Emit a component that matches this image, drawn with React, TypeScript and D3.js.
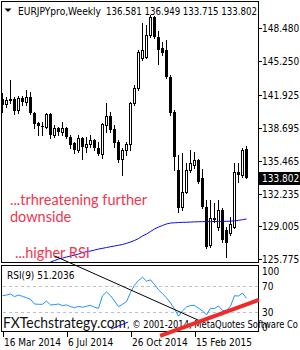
import { useEffect, useRef } from "react";
import * as d3 from "d3";

// weekly EURJPY candles, 16 Mar 2014 .. 17 May 2015
const opens = [
  141.5, 141.0, 141.5, 141.5, 140.4, 141.6, 141.2, 141.7, 140.1, 139.2,
  138.9, 138.8, 140.0, 138.0, 138.7, 138.3, 138.7, 137.8, 137.2, 136.5,
  137.7, 136.8, 137.1, 137.5, 136.7, 136.1, 139.0, 139.8, 138.6, 137.3,
  135.6, 136.5, 137.1, 141.1, 142.6, 145.5, 145.6, 147.8, 149.56, 147.6,
  146.5, 146.3, 143.7, 140.2, 134.55, 130.9, 132.4, 134.55, 135.0, 135.5,
  133.8, 130.9, 127.2, 129.8, 129.0, 130.6, 128.7, 128.4, 129.0, 134.35,
  134.05, 136.581,
];
const highs = [
  142.1, 141.7, 143.4, 141.7, 141.8, 141.8, 142.4, 142.2, 140.2, 139.3,
  139.3, 140.1, 140.1, 139.0, 138.8, 139.3, 138.8, 138.0, 137.3, 138.0,
  137.8, 137.8, 138.0, 137.6, 137.3, 139.2, 141.1, 140.2, 139.0, 137.5,
  136.7, 137.3, 141.2, 142.9, 146.3, 149.0, 148.8, 149.76, 149.7, 148.2,
  147.1, 147.3, 143.9, 140.4, 136.0, 136.2, 135.2, 136.5, 136.3, 135.6,
  134.6, 131.6, 131.6, 131.3, 131.6, 130.8, 129.0, 129.9, 135.2, 135.2,
  136.7, 136.949,
];
const lows = [
  140.2, 140.7, 141.1, 140.0, 140.1, 140.9, 140.9, 140.0, 138.7, 138.0,
  138.0, 138.7, 137.7, 137.8, 138.0, 138.0, 137.7, 136.7, 136.2, 136.3,
  135.6, 136.3, 136.8, 136.5, 136.0, 135.7, 138.3, 138.3, 136.8, 135.3,
  134.1, 136.0, 136.5, 140.9, 142.4, 145.3, 145.5, 147.6, 147.5, 144.9,
  145.8, 143.6, 139.9, 134.5, 130.4, 130.6, 132.3, 134.35, 134.7, 133.3,
  130.8, 126.9, 127.0, 129.4, 128.7, 127.5, 126.0, 128.2, 128.85, 133.4,
  133.9, 133.715,
];
const closes = [
  140.9, 141.4, 141.3, 140.3, 141.6, 141.2, 141.7, 140.1, 139.1, 138.9,
  138.8, 140.0, 138.0, 138.7, 138.3, 138.7, 137.8, 137.0, 136.5, 137.7,
  136.8, 137.1, 137.5, 136.7, 136.1, 139.1, 139.8, 138.5, 137.2, 135.5,
  136.5, 137.1, 141.1, 142.6, 146.1, 146.3, 147.8, 149.56, 147.6, 146.3,
  146.0, 143.7, 140.1, 135.8, 130.8, 132.4, 134.55, 135.2, 135.5, 133.4,
  130.9, 127.0, 129.8, 129.6, 130.6, 127.7, 127.4, 129.2, 134.35, 134.05,
  136.5, 133.802,
];

// long moving average (only visible from mid 2014)
const maValues = [
  null, null, null, null, null, null, null, null, null, null,
  null, null, 125.52, 125.66, 125.81, 125.91, 126.01, 126.11, 126.2, 126.3,
  126.45, 126.53, 126.6, 126.69, 126.79, 126.86, 126.94, 127.02, 127.09, 127.16,
  127.24, 127.35, 127.48, 127.63, 127.82, 128.07, 128.26, 128.51, 128.76, 128.95,
  129.1, 129.25, 129.34, 129.37, 129.39, 129.41, 129.42, 129.44, 129.46, 129.47,
  129.48, 129.48, 129.49, 129.49, 129.5, 129.5, 129.51, 129.53, 129.56, 129.61,
  129.67, 129.74,
];

const rsiValues = [
  55, 56, 57.6, 53.5, 56, 54, 52, 49.5, 42.4, 42,
  42, 47, 41, 41.5, 42.4, 40, 41, 38.4, 36.8, 39,
  37.5, 39, 40.5, 37.5, 36, 55, 60.6, 55, 47, 38.4,
  42, 46, 60, 71, 78, 83, 77, 79, 72, 64,
  58, 52, 44, 35, 24, 32, 38, 40, 40.5, 36,
  32, 26, 36, 35.6, 39.4, 32.6, 33, 39, 55, 54.5,
  59, 51.2036,
];

const priceTicks = [148.48, 145.25, 141.925, 138.695, 135.465, 132.235, 129.005, 125.775];
const rsiLevels = [100, 70, 30, 0];
const rsiDashed = [70, 30];
const dateTickIndex = [0, 16, 32, 48];
const dateTickLabels = ["16 Mar 2014", "6 Jul 2014", "26 Oct 2014", "15 Feb 2015"];
const titleName = "EURJPYpro,Weekly";
const titleOhlc = ["136.581", "136.949", "133.715", "133.802"];

// hand drawn lines, in bar index / RSI units
const rsiTrendLine = [{ i: 13.1, v: 115 }, { i: 49.4, v: 16.7 }];
const rsiSupportLine = [{ i: 39.4, v: -6 }, { i: 64.1, v: 48.5 }];
const blueStroke = [{ i: 27.1, v: 4.5 }, { i: 31.4, v: 15 }];

const lastPrice = 133.802;
const rsiLast = 51.2036;

export default function App() {
  const svgRef = useRef<SVGSVGElement>(null);

  useEffect(() => {
    if (!svgRef.current) return;
    const width = 300;
    const height = 350;
    const frame = { left: 1.5, right: 258.5, top: 1.5, mainBottom: 262.5, rsiTop: 265.5, rsiBottom: 331.5 };
    const axisFont = "'DejaVu Sans Condensed', 'Liberation Sans', sans-serif";
    const noteFont = "Lato, 'Open Sans', sans-serif";
    const noteColor = "#f3354f";

    const svg = d3.select(svgRef.current);
    svg.selectAll("*").remove();
    svg.attr("width", width).attr("height", height);

    svg.append("rect").attr("width", width).attr("height", height).attr("fill", "#fff");

    const x = d3.scaleLinear().domain([0, 61]).range([2.5, 246.5]);
    const y = d3.scaleLinear().domain([125.775, 148.48]).range([259.4, 28]);
    const yRsi = d3.scaleLinear().domain([0, 100]).range([332, 266]);

    const defs = svg.append("defs");
    defs.append("clipPath").attr("id", "mainClip")
      .append("rect")
      .attr("x", frame.left).attr("y", frame.top)
      .attr("width", frame.right - frame.left).attr("height", frame.mainBottom - frame.top);

    // panel frames
    const frames = svg.append("g").attr("fill", "none").attr("stroke", "#000").attr("shape-rendering", "crispEdges");
    frames.append("rect")
      .attr("x", frame.left).attr("y", frame.top)
      .attr("width", frame.right - frame.left).attr("height", frame.mainBottom - frame.top);
    frames.append("rect")
      .attr("x", frame.left).attr("y", frame.rsiTop)
      .attr("width", frame.right - frame.left).attr("height", frame.rsiBottom - frame.rsiTop);

    // title
    svg.append("path").attr("d", "M4.5,8.5 L11.5,8.5 L8,12 Z").attr("fill", "#000");
    const title = svg.append("g").attr("font-family", axisFont).attr("font-size", 10).attr("fill", "#000");
    title.append("text").attr("x", 18).attr("y", 14.5).attr("textLength", 83).attr("lengthAdjust", "spacingAndGlyphs").text(titleName);
    title.append("text").attr("x", 106).attr("y", 14.5)
      .attr("textLength", 151).attr("lengthAdjust", "spacingAndGlyphs")
      .text(titleOhlc.join(" "));

    // price axis
    const pAxis = svg.append("g").attr("font-family", axisFont).attr("font-size", 10);
    priceTicks.forEach((p) => {
      const yy = Math.round(y(p)) + 0.5;
      pAxis.append("line").attr("x1", frame.right).attr("x2", frame.right + 3)
        .attr("y1", yy).attr("y2", yy).attr("stroke", "#000").attr("shape-rendering", "crispEdges");
      pAxis.append("text").attr("x", 262).attr("y", yy).attr("dy", "0.35em").text(d3.format(".3f")(p));
    });

    const main = svg.append("g").attr("clip-path", "url(#mainClip)");

    const bars = opens.map((o, i) => ({ i, o, h: highs[i], l: lows[i], c: closes[i] }));

    // wicks
    main.append("g").attr("stroke", "#000").attr("shape-rendering", "crispEdges")
      .selectAll("line").data(bars).join("line")
      .attr("x1", (d) => x(d.i)).attr("x2", (d) => x(d.i))
      .attr("y1", (d) => Math.round(y(d.h))).attr("y2", (d) => Math.round(y(d.l)) + 1);

    // bodies
    main.append("g").attr("shape-rendering", "crispEdges")
      .selectAll("rect").data(bars).join("rect")
      .attr("x", (d) => (d.c >= d.o ? x(d.i) - 1 : x(d.i) - 1.5))
      .attr("width", (d) => (d.c >= d.o ? 2 : 3))
      .attr("y", (d) => Math.round(y(Math.max(d.o, d.c))) + (d.c >= d.o ? 0.5 : 0))
      .attr("height", (d) => Math.max(1, Math.round(y(Math.min(d.o, d.c))) - Math.round(y(Math.max(d.o, d.c)))))
      .attr("fill", (d) => (d.c >= d.o ? "#fff" : "#000"))
      .attr("stroke", (d) => (d.c >= d.o ? "#000" : "none"));

    // moving average
    const maLine = d3.line<number | null>()
      .defined((d) => d != null)
      .x((_, i) => x(i))
      .y((d) => y(d as number));
    main.append("path").datum(maValues).attr("d", maLine)
      .attr("fill", "none").attr("stroke", "#0a0aef").attr("stroke-width", 1);

    // last price marker
    const ly = Math.round(y(lastPrice)) + 0.5;
    svg.append("rect").attr("x", frame.right).attr("y", ly - 6.5).attr("width", 42).attr("height", 13).attr("fill", "#000");
    svg.append("text").attr("x", 262).attr("y", ly).attr("dy", "0.35em")
      .attr("font-family", axisFont).attr("font-size", 10).attr("fill", "#fff")
      .text(d3.format(".3f")(lastPrice));

    // annotations
    const notes = svg.append("g").attr("font-family", noteFont).attr("font-size", 14.5).attr("fill", noteColor);
    notes.append("text").attr("x", 10).attr("y", 204.5).attr("textLength", 137).attr("lengthAdjust", "spacingAndGlyphs").text("...trhreatening further");
    notes.append("text").attr("x", 10).attr("y", 222).text("downside");
    notes.append("text").attr("x", 15).attr("y", 257.5).text("...higher RSI");

    // RSI panel
    const rsiG = svg.append("g");
    rsiDashed.forEach((lv) => {
      const yy = Math.round(yRsi(lv)) + 0.5;
      rsiG.append("line").attr("x1", frame.left + 1).attr("x2", frame.right - 1)
        .attr("y1", yy).attr("y2", yy)
        .attr("stroke", "#c0c0c0").attr("stroke-dasharray", "3,3").attr("shape-rendering", "crispEdges");
    });
    rsiLevels.forEach((lv) => {
      const yy = lv === 100 ? 271 : lv === 0 ? 327 : Math.round(yRsi(lv)) + 0.5;
      rsiG.append("text").attr("x", 262).attr("y", yy).attr("dy", "0.35em")
        .attr("font-family", axisFont).attr("font-size", 10).text(String(lv));
    });
    rsiG.append("text").attr("x", 7).attr("y", 278.5)
      .attr("font-family", axisFont).attr("font-size", 10)
      .text(`RSI(9) ${rsiLast.toFixed(4)}`);

    const rsiLine = d3.line<number>().x((_, i) => x(i)).y((d) => yRsi(d));
    rsiG.append("path").datum(rsiValues).attr("d", rsiLine)
      .attr("fill", "none").attr("stroke", "#1e90ff").attr("stroke-width", 1);

    // watermark
    svg.append("text").attr("x", 3).attr("y", 328)
      .attr("font-family", noteFont).attr("font-size", 16).attr("fill", "#111")
      .attr("textLength", 123).attr("lengthAdjust", "spacingAndGlyphs")
      .text("FXTechstrategy.com");
    svg.append("text").attr("x", 127).attr("y", 328)
      .attr("font-family", axisFont).attr("font-size", 10).attr("fill", "#000")
      .attr("textLength", 171).attr("lengthAdjust", "spacingAndGlyphs")
      .text(", \u00a9 2001-2014, MetaQuotes Software Co");

    // x axis
    const xAxis = svg.append("g").attr("font-family", axisFont).attr("font-size", 10);
    dateTickIndex.forEach((idx, k) => {
      const xx = Math.round(x(idx)) + 0.5;
      xAxis.append("line").attr("x1", xx).attr("x2", xx).attr("y1", frame.rsiBottom).attr("y2", frame.rsiBottom + 5)
        .attr("stroke", "#000").attr("shape-rendering", "crispEdges");
      xAxis.append("text").attr("x", xx + 0.5).attr("y", 345.5).text(dateTickLabels[k]);
    });

    // drawn trend lines
    const seg = d3.line<{ i: number; v: number }>().x((d) => x(d.i)).y((d) => yRsi(d.v));
    svg.append("path").datum(rsiTrendLine).attr("d", seg).attr("stroke", "#000").attr("stroke-width", 1).attr("fill", "none");
    svg.append("path").datum(blueStroke).attr("d", seg).attr("stroke", "#0a0aef").attr("stroke-width", 1).attr("fill", "none");
    svg.append("path").datum(rsiSupportLine).attr("d", seg).attr("stroke", "#f02a2a").attr("stroke-width", 4).attr("fill", "none");
  }, []);

  return (
    <svg
      ref={svgRef}
      style={{ position: "absolute", left: 0, top: 0, display: "block" }}
    ></svg>
  );
}
